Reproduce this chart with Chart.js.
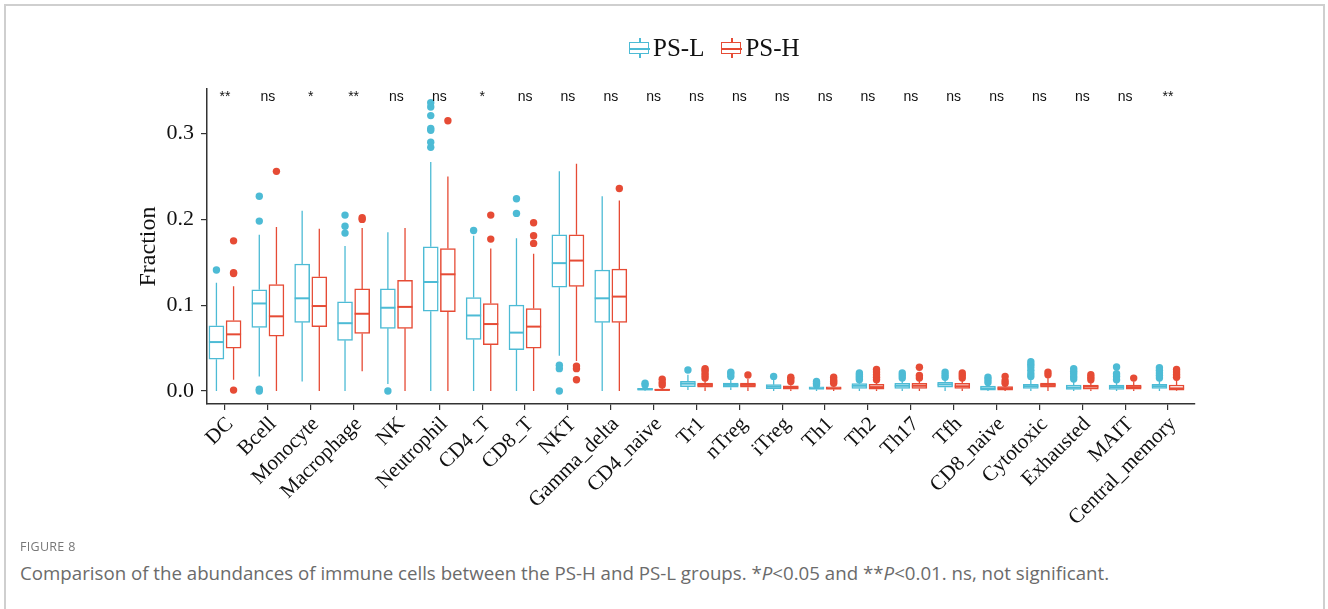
<!DOCTYPE html>
<html lang="en">
<head>
  <meta charset="UTF-8" />
  <title>Figure 8 - Immune cell abundance</title>
  <script src="https://cdn.jsdelivr.net/npm/chart.js"></script>
  <style>
    body {
      margin: 0;
      width: 1328px;
      height: 609px;
      overflow: hidden;
      background: #fff;
      position: relative;
      font-family: 'Liberation Serif', serif;
    }

    .frame {
      position: absolute;
      left: 4px;
      top: 4px;
      width: 1317px;
      height: 700px;
      border: 2px solid #cfcfcf;
    }

    #chart {
      position: absolute;
      left: 0;
      top: 0;
    }

    .legend {
      position: absolute;
      left: 629px;
      top: 34px;
      display: flex;
      align-items: center;
      font-size: 25px;
      color: #111;
    }

    .legend .item {
      display: flex;
      align-items: center;
      margin-right: 17px;
    }

    .glyph {
      position: relative;
      width: 21px;
      height: 20px;
      margin-right: 3px;
    }

    .glyph .box {
      position: absolute;
      left: 0;
      top: 4px;
      width: 18px;
      height: 10px;
      border: 1.5px solid;
      background: #fff;
    }

    .glyph .mid {
      position: absolute;
      left: 0;
      top: 10px;
      width: 21px;
      height: 1.5px;
    }

    .glyph .wh {
      position: absolute;
      left: 10px;
      top: 0;
      width: 1.5px;
      height: 20px;
    }

    .caption-head {
      position: absolute;
      left: 20px;
      top: 538px;
      font-family: 'Open Sans', sans-serif;
      font-size: 12.5px;
      color: #777;
      letter-spacing: 0.3px;
    }

    .caption {
      position: absolute;
      left: 20px;
      top: 560px;
      font-family: 'Open Sans', sans-serif;
      font-size: 18.7px;
      color: #6b6b6b;
    }
  </style>
</head>
<body>

<div class="frame"></div>
<canvas id="chart" width="1328" height="540"></canvas>

<div class="legend">
  <div class="item">
    <div class="glyph">
      <div class="wh" style="background:#4DBBD5"></div>
      <div class="box" style="border-color:#4DBBD5"></div>
      <div class="mid" style="background:#4DBBD5"></div>
    </div>
    <span>PS-L</span>
  </div>
  <div class="item">
    <div class="glyph">
      <div class="wh" style="background:#E64B35"></div>
      <div class="box" style="border-color:#E64B35"></div>
      <div class="mid" style="background:#E64B35"></div>
    </div>
    <span>PS-H</span>
  </div>
</div>

<div class="caption-head">FIGURE 8</div>
<div class="caption">Comparison of the abundances of immune cells between the PS-H and PS-L groups. *<i>P</i>&lt;0.05 and **<i>P</i>&lt;0.01. ns, not significant.</div>

<script>
const categories = ["DC", "Bcell", "Monocyte", "Macrophage", "NK", "Neutrophil", "CD4_T", "CD8_T", "NKT", "Gamma_delta",
  "CD4_naive", "Tr1", "nTreg", "iTreg", "Th1", "Th2", "Th17", "Tfh", "CD8_naive", "Cytotoxic", "Exhausted", "MAIT", "Central_memory"];
const signif = ["**", "ns", "*", "**", "ns", "ns", "*", "ns", "ns", "ns",
  "ns", "ns", "ns", "ns", "ns", "ns", "ns", "ns", "ns", "ns", "ns", "ns", "**"];
const yTicks = [0, 0.1, 0.2, 0.3];

// PS-L five-number summaries + outliers
const lowL  = [0.000, 0.017, 0.011, 0.000, 0.008, 0.000, 0.000, 0.000, 0.041, 0.000,
  0.000, 0.001, 0.001, 0.000, 0.000, 0.000, 0.000, 0.000, 0.000, 0.000, 0.000, 0.000, 0.000];
const q1L   = [0.037, 0.074, 0.080, 0.059, 0.073, 0.093, 0.060, 0.048, 0.121, 0.080,
  0.0008, 0.005, 0.0043, 0.0027, 0.002, 0.003, 0.003, 0.0043, 0.001, 0.003, 0.0019, 0.0019, 0.003];
const medL  = [0.057, 0.102, 0.108, 0.079, 0.097, 0.127, 0.088, 0.068, 0.149, 0.108,
  0.002, 0.0085, 0.007, 0.005, 0.003, 0.006, 0.006, 0.0075, 0.003, 0.0055, 0.004, 0.0045, 0.0055];
const q3L   = [0.076, 0.118, 0.148, 0.104, 0.119, 0.168, 0.109, 0.100, 0.182, 0.141,
  0.003, 0.0113, 0.0093, 0.0073, 0.0047, 0.0085, 0.0089, 0.010, 0.0058, 0.0078, 0.007, 0.007, 0.0078];
const highL = [0.126, 0.182, 0.210, 0.169, 0.185, 0.267, 0.181, 0.178, 0.256, 0.227,
  0.006, 0.019, 0.016, 0.013, 0.008, 0.012, 0.013, 0.014, 0.009, 0.014, 0.012, 0.011, 0.013];
const outL = [[0.141], [0.0, 0.002, 0.198, 0.227], [], [0.184, 0.192, 0.205], [0.0],
  [0.284, 0.290, 0.304, 0.306, 0.321, 0.331, 0.336], [0.187], [0.207, 0.224], [0.0, 0.026, 0.030], [],
  [0.007, 0.009], [0.0245], [0.017, 0.020, 0.022], [0.017], [0.007, 0.009, 0.011],
  [0.013, 0.015, 0.017, 0.019, 0.021], [0.015, 0.018, 0.021], [0.016, 0.019, 0.022], [0.010, 0.013, 0.016],
  [0.017, 0.020, 0.024, 0.028, 0.031, 0.034], [0.014, 0.017, 0.020, 0.023, 0.026],
  [0.013, 0.017, 0.020, 0.028], [0.015, 0.018, 0.021, 0.024, 0.027]];

// PS-H
const lowH  = [0.013, 0.000, 0.000, 0.023, 0.000, 0.000, 0.000, 0.000, 0.035, 0.000,
  0.000, 0.000, 0.000, 0.000, 0.000, 0.000, 0.000, 0.000, 0.000, 0.000, 0.000, 0.000, 0.000];
const q1H   = [0.050, 0.064, 0.075, 0.067, 0.073, 0.0925, 0.054, 0.050, 0.122, 0.080,
  0.000, 0.0043, 0.0043, 0.002, 0.002, 0.002, 0.003, 0.003, 0.001, 0.0045, 0.002, 0.002, 0.0008];
const medH  = [0.066, 0.087, 0.099, 0.090, 0.098, 0.136, 0.078, 0.075, 0.152, 0.110,
  0.0012, 0.007, 0.007, 0.004, 0.003, 0.0045, 0.006, 0.0055, 0.003, 0.007, 0.005, 0.0045, 0.003];
const q3H   = [0.082, 0.124, 0.133, 0.119, 0.129, 0.166, 0.102, 0.096, 0.182, 0.142,
  0.0023, 0.0093, 0.0093, 0.006, 0.0047, 0.0078, 0.0089, 0.0089, 0.005, 0.0093, 0.007, 0.007, 0.007];
const highH = [0.122, 0.191, 0.189, 0.190, 0.190, 0.250, 0.166, 0.160, 0.265, 0.222,
  0.005, 0.013, 0.014, 0.010, 0.007, 0.012, 0.014, 0.013, 0.008, 0.015, 0.012, 0.011, 0.014];
const outH = [[0.001, 0.137, 0.138, 0.175], [0.256], [], [0.200, 0.202], [], [0.315], [0.177, 0.205],
  [0.172, 0.181, 0.196], [0.013, 0.026, 0.029], [0.236],
  [0.007, 0.010, 0.0136], [0.015, 0.018, 0.021, 0.024, 0.026], [0.0186], [0.011, 0.014, 0.016],
  [0.009, 0.011, 0.013, 0.016], [0.013, 0.016, 0.019, 0.022, 0.025], [0.015, 0.018, 0.0276],
  [0.015, 0.018, 0.021], [0.009, 0.012, 0.017], [0.019, 0.022], [0.013, 0.016, 0.019], [0.015],
  [0.016, 0.019, 0.022, 0.025]];

const colL = '#4DBBD5';
const colH = '#E64B35';
const dodge = 0.2;

function boxData(q1, q3, shift) {
  return categories.map((c, i) => ({ x: i + shift, y: [q1[i], q3[i]] }));
}

function outlierData(out, shift) {
  const pts = [];
  out.forEach((vals, i) => vals.forEach(v => pts.push({ x: i + shift, y: v })));
  return pts;
}

// whiskers, medians and significance labels
const boxExtras = {
  id: 'boxExtras',
  afterDatasetsDraw(chart) {
    const ctx = chart.ctx;
    const ys = chart.scales.y;
    const xs = chart.scales.x;
    chart.data.datasets.forEach((ds, di) => {
      if (!ds.med) return;
      const meta = chart.getDatasetMeta(di);
      meta.data.forEach((bar, i) => {
        const half = bar.width / 2;
        ctx.save();
        ctx.strokeStyle = ds.borderColor;
        ctx.lineWidth = 1.3;
        ctx.beginPath();
        ctx.moveTo(bar.x, ys.getPixelForValue(ds.hi[i]));
        ctx.lineTo(bar.x, ys.getPixelForValue(ds.q3[i]));
        ctx.moveTo(bar.x, ys.getPixelForValue(ds.q1[i]));
        ctx.lineTo(bar.x, ys.getPixelForValue(ds.lo[i]));
        ctx.stroke();
        ctx.lineWidth = 2;
        ctx.beginPath();
        const my = ys.getPixelForValue(ds.med[i]);
        ctx.moveTo(bar.x - half, my);
        ctx.lineTo(bar.x + half, my);
        ctx.stroke();
        ctx.restore();
      });
    });

    ctx.save();
    ctx.fillStyle = '#111';
    ctx.font = '14px "Liberation Sans", Arial, sans-serif';
    ctx.textAlign = 'center';
    ctx.textBaseline = 'middle';
    signif.forEach((s, i) => {
      ctx.fillText(s, xs.getPixelForValue(i), ys.getPixelForValue(0.343));
    });
    ctx.restore();
  }
};

new Chart(document.getElementById('chart').getContext('2d'), {
  type: 'bar',
  data: {
    datasets: [
      {
        label: 'PS-L',
        data: boxData(q1L, q3L, -dodge),
        lo: lowL, q1: q1L, med: medL, q3: q3L, hi: highL,
        backgroundColor: '#ffffff',
        borderColor: colL,
        borderWidth: 1.5,
        borderSkipped: false,
        barThickness: 15,
        grouped: false,
        order: 2
      },
      {
        label: 'PS-H',
        data: boxData(q1H, q3H, dodge),
        lo: lowH, q1: q1H, med: medH, q3: q3H, hi: highH,
        backgroundColor: '#ffffff',
        borderColor: colH,
        borderWidth: 1.5,
        borderSkipped: false,
        barThickness: 15,
        grouped: false,
        order: 2
      },
      {
        type: 'scatter',
        label: 'PS-L outliers',
        data: outlierData(outL, -dodge),
        backgroundColor: colL,
        borderWidth: 0,
        pointRadius: 3.7,
        order: 1
      },
      {
        type: 'scatter',
        label: 'PS-H outliers',
        data: outlierData(outH, dodge),
        backgroundColor: colH,
        borderWidth: 0,
        pointRadius: 3.7,
        order: 1
      }
    ]
  },
  options: {
    responsive: false,
    animation: false,
    devicePixelRatio: 1,
    layout: { padding: { top: 89, left: 125, right: 133, bottom: 0 } },
    plugins: {
      legend: { display: false },
      tooltip: { enabled: false }
    },
    scales: {
      x: {
        type: 'linear',
        offset: false,
        min: -0.42,
        max: 22.63,
        afterFit: s => { s.height = 136; },
        afterBuildTicks: s => { s.ticks = categories.map((c, i) => ({ value: i })); },
        grid: { display: true, offset: false, drawOnChartArea: false, drawTicks: true, tickLength: 6, color: '#333', lineWidth: 1.2 },
        border: { display: true, color: '#333', width: 1.5 },
        ticks: {
          autoSkip: false,
          minRotation: 45,
          maxRotation: 45,
          padding: 2,
          labelOffset: 5,
          color: '#111',
          font: { family: "'Liberation Serif', serif", size: 21 },
          callback: (v) => categories[Math.round(v)]
        }
      },
      y: {
        min: -0.0152,
        max: 0.352,
        afterFit: s => { s.width = 82; },
        afterBuildTicks: s => { s.ticks = yTicks.map(v => ({ value: v })); },
        grid: { display: true, drawOnChartArea: false, drawTicks: true, tickLength: 6, color: '#333', lineWidth: 1.2 },
        border: { display: true, color: '#333', width: 1.5 },
        title: {
          display: true,
          text: 'Fraction',
          color: '#111',
          padding: { top: 9, bottom: 0 },
          font: { family: "'Liberation Serif', serif", size: 24 }
        },
        ticks: {
          padding: 7,
          color: '#111',
          font: { family: "'Liberation Serif', serif", size: 22 },
          callback: v => v.toFixed(1)
        }
      }
    }
  },
  plugins: [boxExtras]
});
</script>

</body>
</html>
